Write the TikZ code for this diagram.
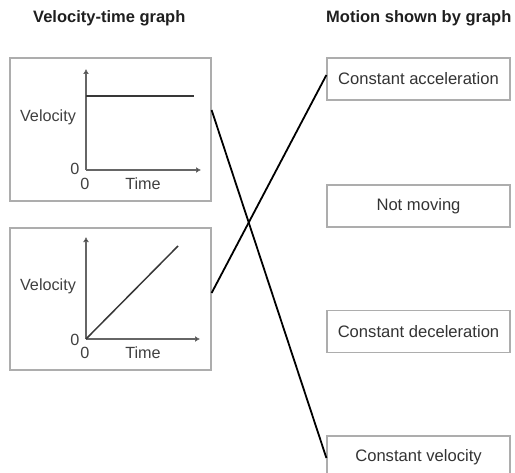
\documentclass[tikz,border=0pt]{standalone}
\usepackage{fontspec}
\setmainfont{Liberation Sans}
\usetikzlibrary{arrows.meta}
\begin{document}
\begin{tikzpicture}[x=1bp,y=-1bp,
  panel/.style={draw=black!32,line width=1.2bp,minimum width=201bp,minimum height=142bp,inner sep=0pt},
  choice/.style={draw=black!32,line width=1.2bp,minimum width=183bp,minimum height=42bp,inner sep=0pt,
    text=black!80,font=\fontsize{16.6bp}{19bp}\selectfont},
  title/.style={font=\fontsize{16.5bp}{19bp}\selectfont\bfseries,text=black!88,anchor=west,inner sep=0pt},
  lbl/.style={font=\fontsize{16.2bp}{19bp}\selectfont,text=black!75,inner sep=0pt},
  axis/.style={draw=black!60,line width=1.5bp,-{Latex[length=5bp,width=6bp,fill=black!85]}},
  plot/.style={draw=black!78,line width=1.5bp},
  link/.style={draw=black,line width=1.8bp}]
\useasboundingbox (0,0) rectangle (515,473);
% titles
\node[title] (t1) at (33,18) {Velocity-time graph};
\node[title] (t2) at (326,18) {Motion shown by graph};
% panels
\node[panel,minimum height=143bp] (g1) at (110.5,129.5) {};
\node[panel] (g2) at (110.5,299) {};
% panel 1 content
\coordinate (o1) at (86,170);
\coordinate (y1) at (86,69);
\coordinate (x1) at (201,170);
\coordinate (h1a) at (86,96);
\coordinate (h1b) at (194,96);
\draw[axis] (o1) -- (y1);
\draw[axis] (o1) -- (x1);
\draw[plot] (h1a) -- (h1b);
\node[lbl] (v1) at (48,117) {Velocity};
\node[lbl] (z1a) at (75,169) {0};
\node[lbl] (z1b) at (85,184) {0};
\node[lbl] (tm1) at (143,184) {Time};
% panel 2 content
\coordinate (o2) at (86,339);
\coordinate (y2) at (86,237);
\coordinate (x2) at (200,339);
\coordinate (d2) at (178,246);
\draw[axis] (o2) -- (y2);
\draw[axis] (o2) -- (x2);
\draw[plot] (o2) -- (d2);
\node[lbl] (v2) at (48,286) {Velocity};
\node[lbl] (z2a) at (75,340) {0};
\node[lbl] (z2b) at (85,353) {0};
\node[lbl] (tm2) at (143,353) {Time};
% choices
\node[choice] (r1) at (418.5,79) {Constant acceleration};
\node[choice] (r2) at (418.5,206) {Not moving};
\node[choice] (r3) at (418.5,331.5) {Constant deceleration};
\node[choice] (r4) at (418.5,457) {Constant velocity};
% links
\draw[link] ([yshift=19.5bp]g1.east) -- ([yshift=-1bp]r4.west);
\draw[link] ([yshift=6bp]g2.east) -- ([yshift=4bp]r1.west);
\end{tikzpicture}
\end{document}
